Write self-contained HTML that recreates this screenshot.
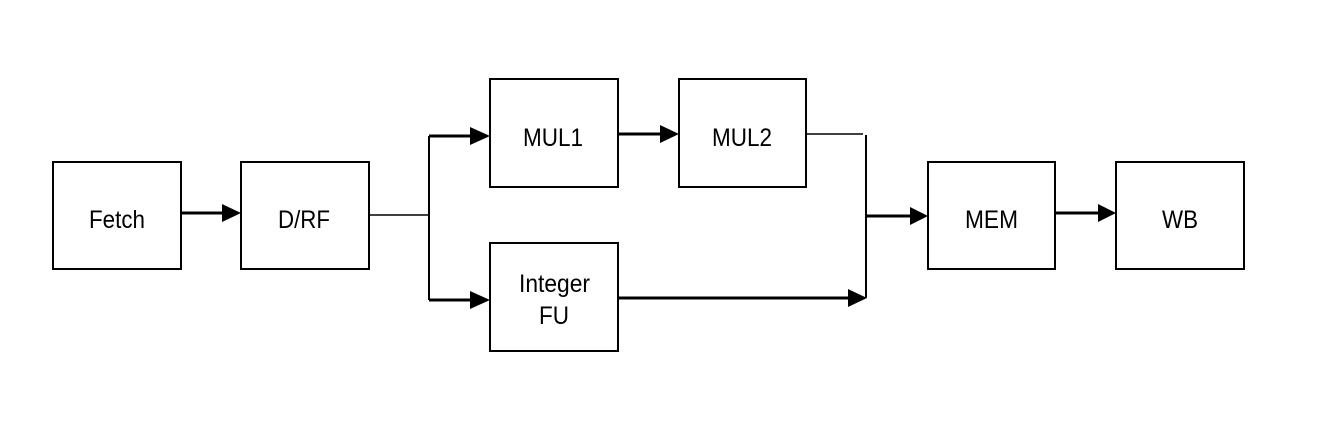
<!DOCTYPE html>
<html><head><meta charset="utf-8"><style>
body{margin:0;background:#fff}
</style></head><body>
<svg width="1338" height="418" xmlns="http://www.w3.org/2000/svg" font-family="Liberation Sans, sans-serif" font-size="25">
<g fill="none" stroke="#000" stroke-width="2">
<rect x="53" y="162" width="128" height="107"/>
<rect x="241" y="162" width="128" height="107"/>
<rect x="490" y="79" width="128" height="108"/>
<rect x="679" y="79" width="127" height="108"/>
<rect x="490" y="243" width="128" height="108"/>
<rect x="928" y="162" width="127" height="107"/>
<rect x="1116" y="162" width="128" height="107"/>
</g>
<g stroke="#000" fill="none">
<path d="M369 215 H429" stroke-width="1.5"/>
<path d="M429 136 V300" stroke-width="2"/>
<path d="M806 134 H863" stroke-width="1.5"/>
<path d="M866 135 V298" stroke-width="2"/>
</g>
<g stroke="#000" stroke-width="3" fill="none">
<path d="M181 213 H222"/>
<path d="M429 136 H470"/>
<path d="M618 134 H660"/>
<path d="M429 300 H470"/>
<path d="M618 298 H848"/>
<path d="M866 216 H910"/>
<path d="M1055 213 H1098"/>
</g>
<g fill="#000">
<path d="M222 204 L241 213 L222 222z"/>
<path d="M470 127 L490 136 L470 145z"/>
<path d="M660 125 L679 134 L660 143z"/>
<path d="M470 291 L490 300 L470 309z"/>
<path d="M848 289 L867 298 L848 307z"/>
<path d="M910 207 L928 216 L910 225z"/>
<path d="M1098 204 L1116 213 L1098 222z"/>
</g>
<g fill="#000" lengthAdjust="spacingAndGlyphs">
<text x="89" y="228" textLength="56" lengthAdjust="spacingAndGlyphs">Fetch</text>
<text x="278" y="228" textLength="52" lengthAdjust="spacingAndGlyphs">D/RF</text>
<text x="523" y="146" textLength="60" lengthAdjust="spacingAndGlyphs">MUL1</text>
<text x="712" y="146" textLength="60" lengthAdjust="spacingAndGlyphs">MUL2</text>
<text x="519" y="292" textLength="71" lengthAdjust="spacingAndGlyphs">Integer</text>
<text x="539" y="324" textLength="30" lengthAdjust="spacingAndGlyphs">FU</text>
<text x="965" y="228" textLength="53" lengthAdjust="spacingAndGlyphs">MEM</text>
<text x="1162" y="228" textLength="36" lengthAdjust="spacingAndGlyphs">WB</text>
</g>
</svg>
</body></html>
